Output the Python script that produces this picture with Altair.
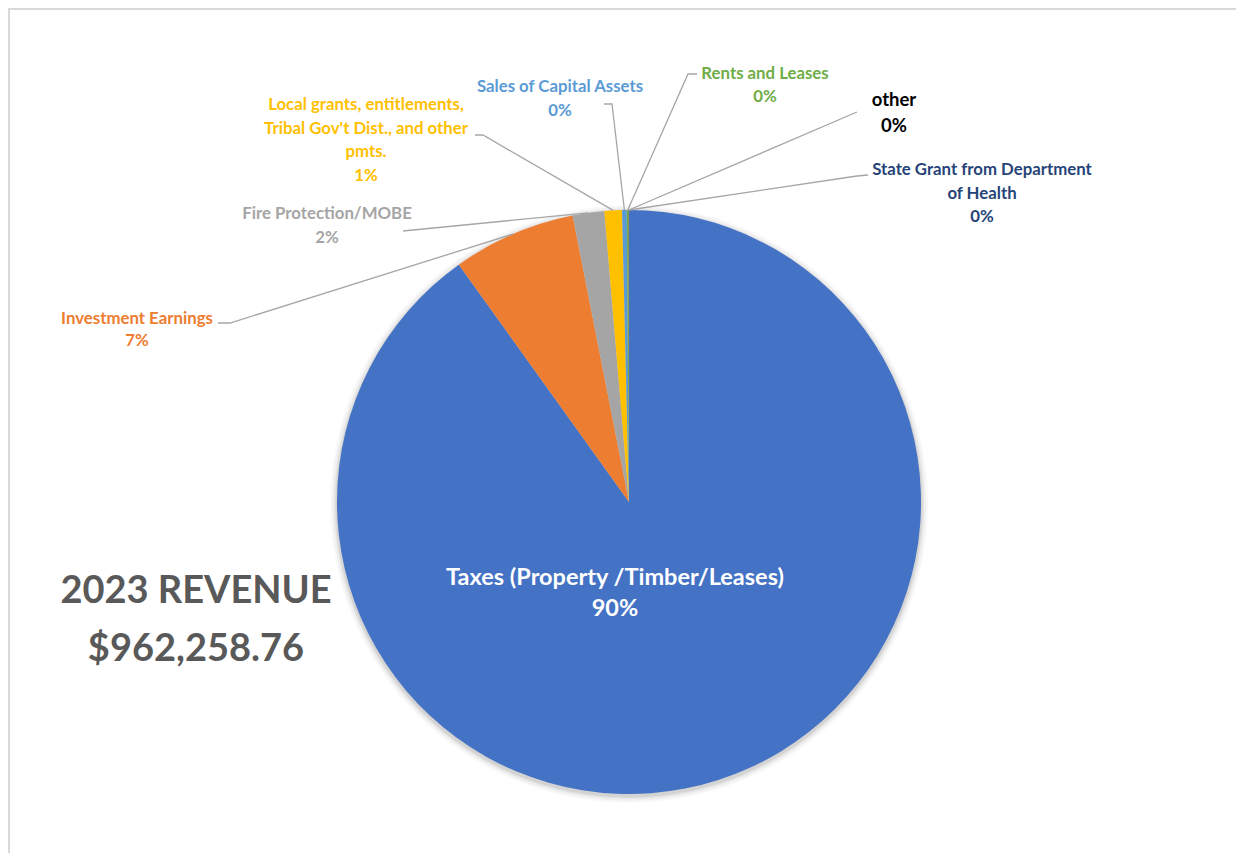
import math
import altair as alt
import pandas as pd

# ---------------- data ----------------
categories = [
    "Taxes (Property /Timber/Leases)",
    "Investment Earnings",
    "Fire Protection/MOBE",
    "Local grants, entitlements, Tribal Gov't Dist., and other pmts.",
    "Sales of Capital Assets",
    "Rents and Leases",
    "other",
    "State Grant from Department of Health",
]
amounts = [867000.00, 65500.00, 16800.00, 9300.00, 2500.00, 1000.00, 150.00, 8.76]
label_lines = [
    ["Taxes (Property /Timber/Leases)"],
    ["Investment Earnings"],
    ["Fire Protection/MOBE"],
    ["Local grants, entitlements,", "Tribal Gov't Dist., and other", "pmts."],
    ["Sales of Capital Assets"],
    ["Rents and Leases"],
    ["other"],
    ["State Grant from Department", "of Health"],
]
title_text = "2023 REVENUE"

# ---------------- styles / layout ----------------
slice_colors = ["#4472C4", "#ED7D31", "#A5A5A5", "#FFC000", "#5B9BD5", "#70AD47", "#9E480E", "#264478"]
label_colors = ["#FFFFFF", "#ED7D31", "#A5A5A5", "#FFC000", "#5B9BD5", "#70AD47", "#000000", "#264478"]
label_x = [615, 137, 327, 366, 560, 765, 894, 982]
label_y0 = [578, 319, 214, 105, 87, 74, 100, 170]
line_gap = [31, 22, 24, 23.7, 24, 23, 26, 23.5]
font_sizes = [23.5, 16.8, 16.8, 16.8, 16.8, 16.8, 18.5, 16.8]
leader_start = [
    None,
    [(218, 323), (230, 323)],
    [(403, 231)],
    [(475, 135), (483, 135)],
    [(604, 104), (612, 104)],
    [(697, 74), (688, 74)],
    [(857, 112)],
    [(868, 175), (857, 176)],
]

W, H = 1228, 845
OFF = 8
CX, CY, R = 629, 502, 292
FONT = "Lato"

total = sum(amounts)

# ---------------- tables ----------------
pie_df = pd.DataFrame({"category": categories, "amount": amounts, "idx": list(range(len(categories)))})

rows = []
for i, lines in enumerate(label_lines):
    pct = f"{round(100 * amounts[i] / total)}%"
    for k, t in enumerate(lines + [pct]):
        rows.append({"px": label_x[i], "py": label_y0[i] + k * line_gap[i], "t": t,
                     "c": label_colors[i], "fs": font_sizes[i]})
text_df = pd.DataFrame(rows)

title_df = pd.DataFrame({
    "px": [196, 196],
    "py": [592, 650],
    "t": [title_text, f"${total:,.2f}"],
})

line_rows = []
cum = 0.0
for i, v in enumerate(amounts):
    mid = 2 * math.pi * (cum + v / 2) / total
    cum += v
    if leader_start[i] is None:
        continue
    pts = list(leader_start[i]) + [(CX + R * math.sin(mid), CY - R * math.cos(mid))]
    for k, (x, y) in enumerate(pts):
        line_rows.append({"id": i, "k": k, "px": x, "py": y})
line_df = pd.DataFrame(line_rows)

border_df = pd.DataFrame({
    "id": [0, 0, 0],
    "k": [0, 1, 2],
    "px": [9, 9, OFF + W],
    "py": [OFF + H, 9, 9],
})

xs = alt.Scale(domain=[OFF, OFF + W], nice=False, zero=False)
ys = alt.Scale(domain=[OFF, OFF + H], nice=False, zero=False, reverse=True)

def X():
    return alt.X("px:Q", scale=xs, axis=None)

def Y():
    return alt.Y("py:Q", scale=ys, axis=None)

one = pd.DataFrame({"k": [1]})
shadows = [
    alt.Chart(one).mark_arc(radius=R + rr, theta=0, theta2=2 * math.pi, fill="#000000", opacity=op)
    .encode(x=alt.value(CX - OFF), y=alt.value(CY - OFF + 2))
    for rr, op in [(7, 0.025), (5, 0.035), (3, 0.05), (1.5, 0.07)]
]

pie = alt.Chart(pie_df).mark_arc(radius=R).encode(
    theta=alt.Theta("amount:Q", stack=True),
    color=alt.Color("category:N", scale=alt.Scale(domain=categories, range=slice_colors), legend=None),
    order=alt.Order("idx:Q"),
    x=alt.value(CX - OFF),
    y=alt.value(CY - OFF),
)

leaders = alt.Chart(line_df).mark_line(color="#A6A6A6", strokeWidth=1.3).encode(
    x=X(), y=Y(), detail="id:N", order="k:Q"
)

border = alt.Chart(border_df).mark_line(color="#D9D9D9", strokeWidth=2).encode(
    x=X(), y=Y(), detail="id:N", order="k:Q"
)

labels = alt.Chart(text_df).mark_text(font=FONT, fontWeight="bold", align="center", baseline="middle").encode(
    x=X(), y=Y(), text="t:N",
    fill=alt.Fill("c:N", scale=None),
    size=alt.Size("fs:Q", scale=None),
)

title = alt.Chart(title_df).mark_text(font=FONT, fontWeight="bold", align="center", baseline="middle",
                                      fontSize=38, color="#595959").encode(
    x=X(), y=Y(), text="t:N"
)

chart = alt.layer(border, *shadows, pie, leaders, labels, title).properties(
    width=W, height=H, padding=0, autosize=alt.AutoSizeParams(type="none"), background="white"
).configure_view(stroke=None)

chart.save("out.html", embed_options={"renderer": "svg", "actions": False})
